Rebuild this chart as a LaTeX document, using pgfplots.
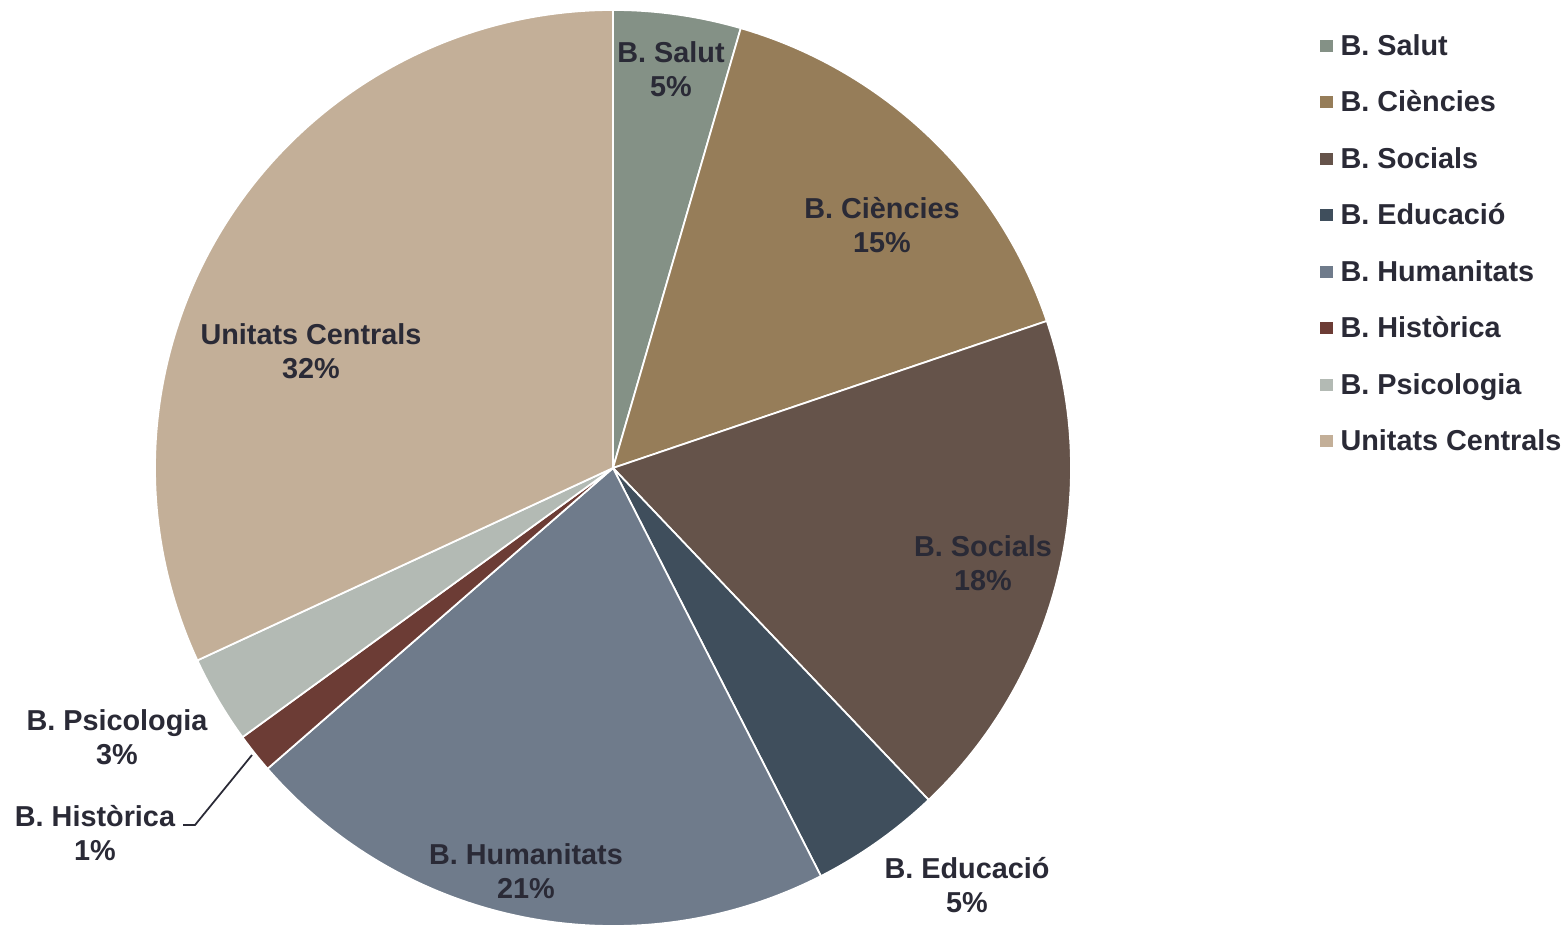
\documentclass[border=0pt]{standalone}
\usepackage{pgfplots}
\pgfplotsset{compat=1.18}
\usepackage{pgfplotstable}
\usepackage{fontspec}
\setmainfont{Liberation Sans}
\definecolor{txt}{RGB}{42,42,54}
\definecolor{c0}{RGB}{132,145,134}
\definecolor{c1}{RGB}{150,125,89}
\definecolor{c2}{RGB}{101,83,74}
\definecolor{c3}{RGB}{63,78,92}
\definecolor{c4}{RGB}{111,123,139}
\definecolor{c5}{RGB}{108,60,53}
\definecolor{c6}{RGB}{179,186,180}
\definecolor{c7}{RGB}{195,175,152}
\pgfplotstableread{
idx value
0 4.5
1 15.3
2 18.1
3 4.6
4 21.1
5 1.4
6 3.1
7 31.9
}\piedata
\begin{document}
\begin{tikzpicture}
\begin{axis}[
  scale only axis, width=156.8mm, height=92.6mm,
  xmin=0, xmax=1568, ymin=0, ymax=926,
  hide axis, clip=false,
  legend cell align=left,
  legend image code/.code={\fill[#1, draw=none] (0,0.35mm) rectangle (1.3mm,1.55mm); \path[draw=none, fill=none] (0,0) -- (2.05mm,0);},
  legend style={at={(axis cs:1320,899)}, anchor=north west, draw=none, fill=none, inner sep=0pt, outer sep=0pt,
    row sep=0pt, column sep=0pt,
    nodes={inner sep=0pt, outer sep=0pt, text height=2.85mm, text depth=2.8mm, text=txt,
      font=\bfseries\fontsize{8.2}{9.7}\selectfont}},
]
\path (axis cs:0,0) rectangle (axis cs:1568,926);
\def\cum{0}
\pgfplotstablegetrowsof{\piedata}
\pgfmathtruncatemacro\nrows{\pgfplotsretval-1}
\pgfplotsforeachungrouped \i in {0,...,\nrows}{%
  \pgfplotstablegetelem{\i}{value}\of\piedata
  \let\val\pgfplotsretval
  \pgfmathsetmacro\aA{90-3.6*\cum}
  \pgfmathsetmacro\aB{90-3.6*(\cum+\val)}
  \pgfmathsetmacro\cum{\cum+\val}
  \edef\cmd{\noexpand\fill[overlay, fill=c\i, draw=white, line width=0.5pt] (axis cs:613,458) -- ++(\aA:45.8mm) arc[start angle=\aA, end angle=\aB, radius=45.8mm] -- cycle;}
  \cmd
}
\addlegendimage{fill=c0}\addlegendentry{B. Salut}
\addlegendimage{fill=c1}\addlegendentry{B. Ciències}
\addlegendimage{fill=c2}\addlegendentry{B. Socials}
\addlegendimage{fill=c3}\addlegendentry{B. Educació}
\addlegendimage{fill=c4}\addlegendentry{B. Humanitats}
\addlegendimage{fill=c5}\addlegendentry{B. Històrica}
\addlegendimage{fill=c6}\addlegendentry{B. Psicologia}
\addlegendimage{fill=c7}\addlegendentry{Unitats Centrals}
\tikzset{lbl/.style={align=center, text=txt, inner sep=0pt, font=\bfseries\fontsize{8.2}{9.7}\selectfont}}
\node[lbl] at (axis cs:671,857) {B. Salut\\5\%};
\node[lbl] at (axis cs:882,701) {B. Ciències\\15\%};
\node[lbl] at (axis cs:983,363) {B. Socials\\18\%};
\node[lbl] at (axis cs:967,41) {B. Educació\\5\%};
\node[lbl] at (axis cs:526,55) {B. Humanitats\\21\%};
\node[lbl] at (axis cs:95,93) {B. Històrica\\1\%};
\node[lbl] at (axis cs:117,189) {B. Psicologia\\3\%};
\node[lbl] at (axis cs:311,575) {Unitats Centrals\\32\%};
\draw[txt, line width=0.5pt] (axis cs:252,171) -- (axis cs:195,101) -- (axis cs:183,101);
\end{axis}
\end{tikzpicture}
\end{document}
